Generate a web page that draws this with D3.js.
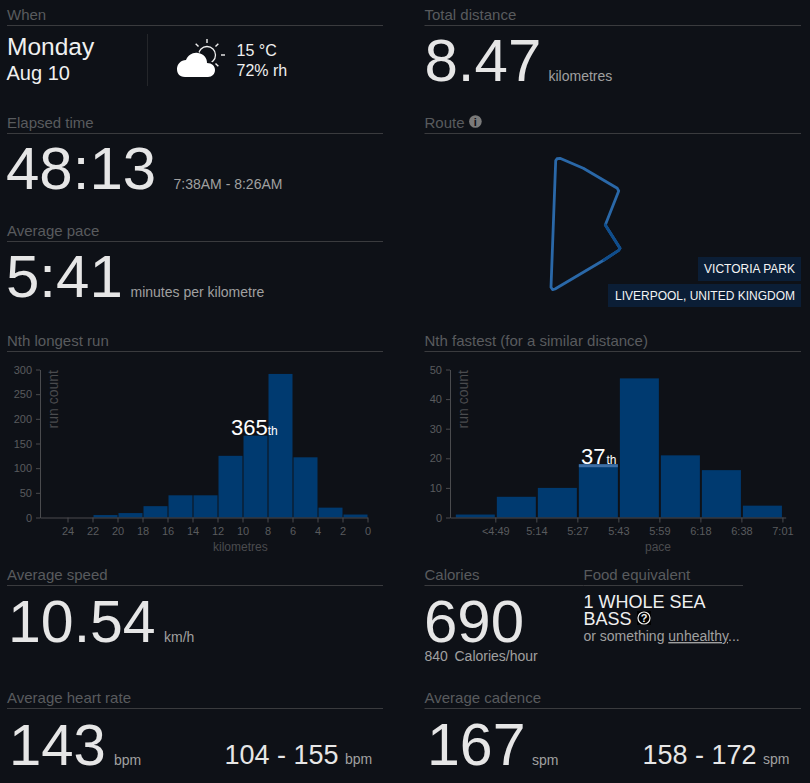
<!DOCTYPE html>
<html>
<head>
<meta charset="utf-8">
<title>Run summary</title>
<script src="https://d3js.org/d3.v7.min.js"></script>
<style>
  html, body { margin: 0; padding: 0; background: #0e1117; }
  svg { display: block; font-family: "Liberation Sans", Arial, sans-serif; }
  .head { fill: #595b5e; font-size: 15px; }
  .big { fill: #e6e6e6; }
  .unit { fill: #a0a0a0; font-size: 14px; }
  .tick text { fill: #595b5e; font-size: 11px; font-family: "Liberation Sans", Arial, sans-serif; }
  .tick line, .domain { stroke: #4a4b4e; }
</style>
</head>
<body>
<svg id="chart" width="810" height="783"></svg>
<script>
// section headers: text, x, y of rule, width of rule
const headers = [
  ["When", 7, 25, 376], ["Total distance", 424.5, 25, 376.5],
  ["Elapsed time", 7, 133, 376], ["Route", 424.5, 133, 376.5],
  ["Average pace", 7, 241, 376],
  ["Nth longest run", 7, 351, 376], ["Nth fastest (for a similar distance)", 424.5, 351, 376.5],
  ["Average speed", 7, 585, 376], ["Calories", 424.5, 585, 159], ["Food equivalent", 583.5, 585, 159.5],
  ["Average heart rate", 7, 708, 376], ["Average cadence", 424.5, 708, 376.5]
];
// big numbers: value, x, baseline, size, unit, unit x, unit baseline
const bigStats = [
  ["8.47", 424.5, 81, 60, "kilometres", 548.5, 81],
  ["48:13", 6, 189, 60, "7:38AM - 8:26AM", 173.5, 189],
  ["5:41", 6, 297, 60, "minutes per kilometre", 130.5, 297],
  ["10.54", 8, 642, 59, "km/h", 164, 642],
  ["690", 424, 642, 60, "", 0, 0],
  ["143", 9, 765, 58, "bpm", 114, 765],
  ["167", 427, 765, 59, "spm", 532, 765]
];
const ranges = [
  ["104 - 155", 224.5, 764, "bpm", 345, 764],
  ["158 - 172", 642.5, 764, "spm", 763, 764]
];

// longest run histogram, km bins read right to left
const distStart = [0, 2, 4, 6, 8, 10, 12, 14, 16, 18, 20];
const distCount = [6, 20, 122, 291, 166, 125, 45, 45, 23, 9, 5];
const distTicks = [0, 2, 4, 6, 8, 10, 12, 14, 16, 18, 20, 22, 24];

// fastest histogram
const paceCount = [1, 7, 10, 18, 47, 21, 16, 4];
const paceTicks = ["<4:49", "5:14", "5:27", "5:43", "5:59", "6:18", "6:38", "7:01"];

// route trace, in relative map units
const routeEast = [5.7, 7, 10, 33.3, 67.3, 68.7, 55.3, 70, 68.7, 54, 5, 2.7, 1, 5.7];
const routeNorth = [129.3, 131.3, 131.7, 121.7, 101.7, 99, 65, 41.7, 39.7, 30, 1, 0.3, 2.7, 129.3];
const routeDarkFrom = 6, routeDarkTo = 9;
const places = ["VICTORIA PARK", "LIVERPOOL, UNITED KINGDOM"];

const svg = d3.select("#chart");

headers.forEach(h => {
  svg.append("text").attr("class", "head").attr("x", h[1]).attr("y", h[2] - 5).text(h[0]);
  svg.append("line").attr("x1", h[1]).attr("x2", h[1] + h[3]).attr("y1", h[2] + 0.5).attr("y2", h[2] + 0.5)
    .attr("stroke", "#3a3b3e");
});

bigStats.forEach(s => {
  svg.append("text").attr("class", "big").attr("x", s[1]).attr("y", s[2]).attr("font-size", s[3]).text(s[0]);
  if (s[4]) svg.append("text").attr("class", "unit").attr("x", s[5]).attr("y", s[6]).text(s[4]);
});
ranges.forEach(r => {
  svg.append("text").attr("x", r[1]).attr("y", r[2]).attr("fill", "#e6e6e6").attr("font-size", 27).text(r[0]);
  svg.append("text").attr("class", "unit").attr("x", r[4]).attr("y", r[5]).text(r[3]);
});

// when block
const label = (t, x, y, size, fill) => svg.append("text").attr("x", x).attr("y", y)
  .attr("font-size", size).attr("fill", fill).text(t);
label("Monday", 7, 55, 24.5, "#f0f0f0");
label("Aug 10", 6.5, 80, 20, "#f0f0f0");
label("15 °C", 236.5, 56, 16, "#f0f0f0");
label("72% rh", 236.5, 76, 16, "#f0f0f0");
svg.append("line").attr("x1", 147.5).attr("x2", 147.5).attr("y1", 34).attr("y2", 86).attr("stroke", "#24262a");

// weather icon
const sun = svg.append("g").attr("transform", "translate(207,55)");
sun.append("circle").attr("r", 8.5).attr("fill", "none").attr("stroke", "#f0f0f0").attr("stroke-width", 1.3);
[-90, -45, -135, 0, 45].forEach(a => {
  const r = a * Math.PI / 180, d = a === 0 ? 14 : 12, e = a === 0 ? 18 : 16;
  sun.append("line").attr("x1", Math.cos(r) * d).attr("y1", Math.sin(r) * d)
    .attr("x2", Math.cos(r) * e).attr("y2", Math.sin(r) * e)
    .attr("stroke", "#f0f0f0").attr("stroke-width", 1.4);
});
svg.append("path").attr("fill", "#0e1117")
  .attr("d", "M174,80 L174,60 L190,46 L212,62 L218,80 Z");
svg.append("path").attr("fill", "#ffffff")
  .attr("d", "M185,77 C179,77 177,73 177,69 C177,64 181,60 186,60 C188,55 193,52 198,53 C204,54 207,58 207,63 C212,63 215,66 215,70 C215,74 212,77 208,77 Z");

// histogram: longest run
const y1 = d3.scaleLinear().domain([0, 300]).range([517.5, 369.5]);
const x1 = d3.scaleLinear().domain([26.2, 0]).range([40, 367.5]);
const g1 = svg.append("g");
g1.selectAll("rect").data(distStart).join("rect")
  .attr("x", d => x1(d + 2) + 1).attr("width", d => x1(d) - x1(d + 2) - 1)
  .attr("y", (d, i) => y1(distCount[i])).attr("height", (d, i) => y1(0) - y1(distCount[i]))
  .attr("fill", "#003a70");
svg.append("g").attr("transform", "translate(0,517.5)")
  .call(d3.axisBottom(x1).tickValues(distTicks).tickSize(5).tickSizeOuter(0).tickPadding(5));
svg.append("g").attr("transform", "translate(40,0)")
  .call(d3.axisLeft(y1).ticks(6).tickSize(4).tickSizeOuter(0).tickPadding(4));

// histogram: fastest
const y2 = d3.scaleLinear().domain([0, 50]).range([517.5, 369.5]);
const x2 = d3.scaleLinear().domain([-0.105, 8.08]).range([450, 785.7]);
const g2 = svg.append("g");
g2.selectAll("rect").data(paceCount).join("rect")
  .attr("x", (d, i) => x2(i) + 1.5).attr("width", x2(1) - x2(0) - 2)
  .attr("y", d => y2(d)).attr("height", d => y2(0) - y2(d))
  .attr("fill", "#003a70");
g2.append("rect").attr("x", x2(3) + 1.5).attr("width", x2(1) - x2(0) - 2)
  .attr("y", y2(paceCount[3])).attr("height", 3).attr("fill", "#3f6fa5");
svg.append("g").attr("transform", "translate(0,517.5)")
  .call(d3.axisBottom(x2).tickValues(d3.range(1, 9)).tickFormat(i => paceTicks[i - 1])
    .tickSize(5).tickSizeOuter(0).tickPadding(5));
svg.append("g").attr("transform", "translate(450,0)")
  .call(d3.axisLeft(y2).ticks(6).tickSize(4).tickSizeOuter(0).tickPadding(4));

// axis titles
[58, 468].forEach(x => {
  svg.append("text").attr("transform", `translate(${x},370) rotate(-90)`)
    .attr("text-anchor", "end").attr("font-size", 14).attr("fill", "#4a4b4e").text("run count");
});
label("kilometres", 213, 551, 12, "#4a4b4e");
label("pace", 645, 551, 12, "#4a4b4e");

// rank labels
const rank = (n, x, y) => {
  const t = svg.append("text").attr("x", x).attr("y", y).attr("fill", "#fff").attr("font-size", 22);
  t.append("tspan").text(n);
  t.append("tspan").attr("font-size", 12).attr("dx", n === "37" ? 1 : 0).text("th");
};
rank("365", 231, 435);
rank("37", 581, 464);

// route
const rx = d3.scaleLinear().domain([0, 100]).range([550, 650]);
const ry = d3.scaleLinear().domain([0, 140]).range([290, 150]);
const routeLine = d3.line().x(d => rx(d[0])).y(d => ry(d[1]));
const routePts = d3.zip(routeEast, routeNorth);
const routeG = svg.append("g").attr("fill", "none").attr("stroke-width", 2.8)
  .attr("stroke-linejoin", "round").attr("stroke-linecap", "round");
routeG.append("path").attr("d", routeLine(routePts)).attr("stroke", "#2a68a8");
routeG.append("path").attr("d", routeLine(routePts.slice(routeDarkFrom, routeDarkTo + 1))).attr("stroke", "#0f4d8c");

// place tags
places.forEach((p, i) => {
  const top = i === 0 ? 257 : 284, h = i === 0 ? 24 : 23, left = i === 0 ? 698 : 608;
  svg.append("rect").attr("x", left).attr("y", top).attr("width", 801 - left).attr("height", h).attr("fill", "#0b1e36");
  svg.append("text").attr("x", 795).attr("y", top + 16).attr("text-anchor", "end")
    .attr("font-size", 12).attr("fill", "#f4f4f4").text(p);
});

// route info icon
svg.append("circle").attr("cx", 475.4).attr("cy", 121.5).attr("r", 6.3).attr("fill", "#7a7a7a");
svg.append("text").attr("x", 475.4).attr("y", 126).attr("text-anchor", "middle")
  .attr("font-size", 11).attr("font-weight", "bold").attr("fill", "#0e1117").text("i");

// calories / food
label("840", 424.5, 661, 14, "#a0a0a0");
label("Calories/hour", 454.5, 661, 14, "#a0a0a0");
label("1 WHOLE SEA", 583.5, 607.5, 18, "#f0f0f0");
label("BASS", 583.5, 624.5, 18, "#f0f0f0");
svg.append("rect").attr("x", 637).attr("y", 611).attr("width", 14).attr("height", 14).attr("fill", "#000");
svg.append("circle").attr("cx", 644).attr("cy", 618).attr("r", 6).attr("fill", "none").attr("stroke", "#f0f0f0").attr("stroke-width", 1.2);
svg.append("text").attr("x", 644).attr("y", 622).attr("text-anchor", "middle").attr("font-size", 11).attr("font-weight", "bold").attr("fill", "#f0f0f0").text("?");
const food = label("or something ", 583.5, 641, 14, "#a0a0a0");
food.append("tspan").attr("text-decoration", "underline").text("unhealthy");
food.append("tspan").text("...");
</script>
</body>
</html>
